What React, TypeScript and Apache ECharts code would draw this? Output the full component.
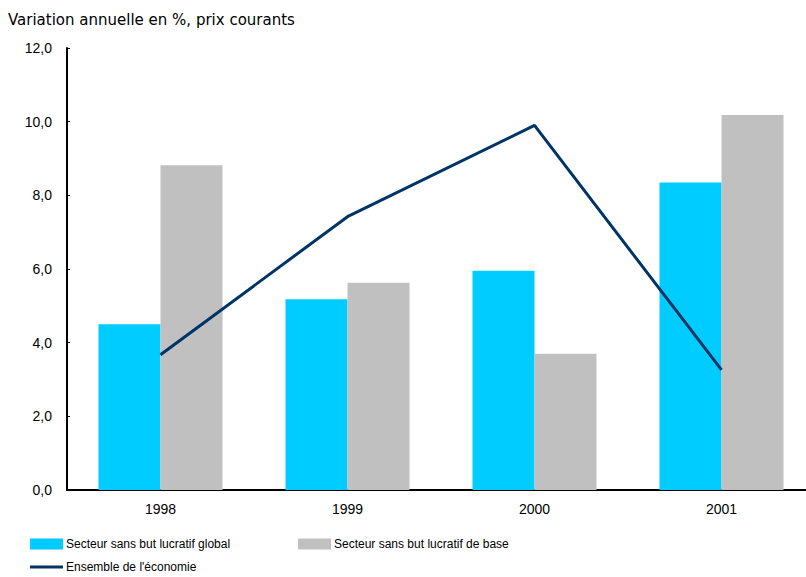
import React, { useEffect, useRef } from "react";
import * as echarts from "echarts";

const categories = ["1998", "1999", "2000", "2001"];
const globalValues = [4.5, 5.18, 5.95, 8.35];
const baseValues = [8.82, 5.63, 3.7, 10.18];
const economyValues = [3.67, 7.42, 9.9, 3.26];
const titleText = "Variation annuelle en %, prix courants";
const seriesNames = [
  "Secteur sans but lucratif global",
  "Secteur sans but lucratif de base",
  "Ensemble de l'économie",
];

const FONT = "'Liberation Sans', Arial, sans-serif";

export default function App() {
  const ref = useRef<HTMLDivElement>(null);
  useEffect(() => {
    if (!ref.current) return;
    const chart = echarts.init(ref.current, null, { renderer: "svg" });
    const legendText = { fontFamily: FONT, fontSize: 12, color: "#000", padding: [0, 0, 0, -2] };
    chart.setOption({
      animation: false,
      textStyle: { fontFamily: FONT },
      title: {
        text: titleText,
        left: 3,
        top: 7,
        textStyle: { fontFamily: "'DejaVu Sans', Verdana, sans-serif", fontSize: 15, fontWeight: "normal", color: "#000" },
      },
      grid: { left: 67, top: 48, bottom: 87, right: 0, containLabel: false },
      legend: [
        {
          data: [{ name: seriesNames[0], icon: "rect" }],
          left: 30,
          top: 538,
          padding: 0,
          itemWidth: 33,
          itemHeight: 11,
          textStyle: legendText,
          selectedMode: false,
        },
        {
          data: [{ name: seriesNames[1], icon: "rect" }],
          left: 298,
          top: 538,
          padding: 0,
          itemWidth: 33,
          itemHeight: 11,
          textStyle: legendText,
          selectedMode: false,
        },
        {
          data: [{ name: seriesNames[2], icon: "rect" }],
          left: 30,
          top: 561,
          padding: 0,
          itemWidth: 33,
          itemHeight: 3,
          textStyle: legendText,
          selectedMode: false,
        },
      ],
      xAxis: {
        type: "category",
        data: categories,
        boundaryGap: true,
        axisLine: { lineStyle: { color: "#000", width: 2 } },
        axisTick: { inside: true, length: 3, lineStyle: { color: "#000" } },
        axisLabel: { color: "#000", fontSize: 14, fontFamily: FONT, margin: 12 },
        splitLine: { show: false },
      },
      yAxis: {
        type: "value",
        min: 0,
        max: 12,
        interval: 2,
        axisLine: { show: true, lineStyle: { color: "#000", width: 2 } },
        axisTick: { show: true, inside: true, length: 3, lineStyle: { color: "#000" } },
        axisLabel: {
          color: "#000",
          fontSize: 14,
          fontFamily: FONT,
          margin: 15,
          formatter: (v: number) => v.toFixed(1).replace(".", ","),
        },
        splitLine: { show: false },
      },
      series: [
        {
          name: seriesNames[0],
          type: "bar",
          data: globalValues,
          barWidth: 62,
          barGap: "0%",
          itemStyle: { color: "#00CCFF" },
        },
        {
          name: seriesNames[1],
          type: "bar",
          data: baseValues,
          barWidth: 62,
          barGap: "0%",
          itemStyle: { color: "#C0C0C0" },
        },
        {
          name: seriesNames[2],
          type: "line",
          data: economyValues,
          symbol: "none",
          lineStyle: { color: "#003366", width: 3 },
          itemStyle: { color: "#003366" },
          z: 5,
        },
      ],
    });
    return () => chart.dispose();
  }, []);
  return (
    <div style={{ position: "absolute", left: 0, top: 0, width: 806, height: 577, overflow: "hidden" }}>
      <div ref={ref} style={{ position: "absolute", left: 0, top: 0, width: 815, height: 577 }} />
    </div>
  );
}
